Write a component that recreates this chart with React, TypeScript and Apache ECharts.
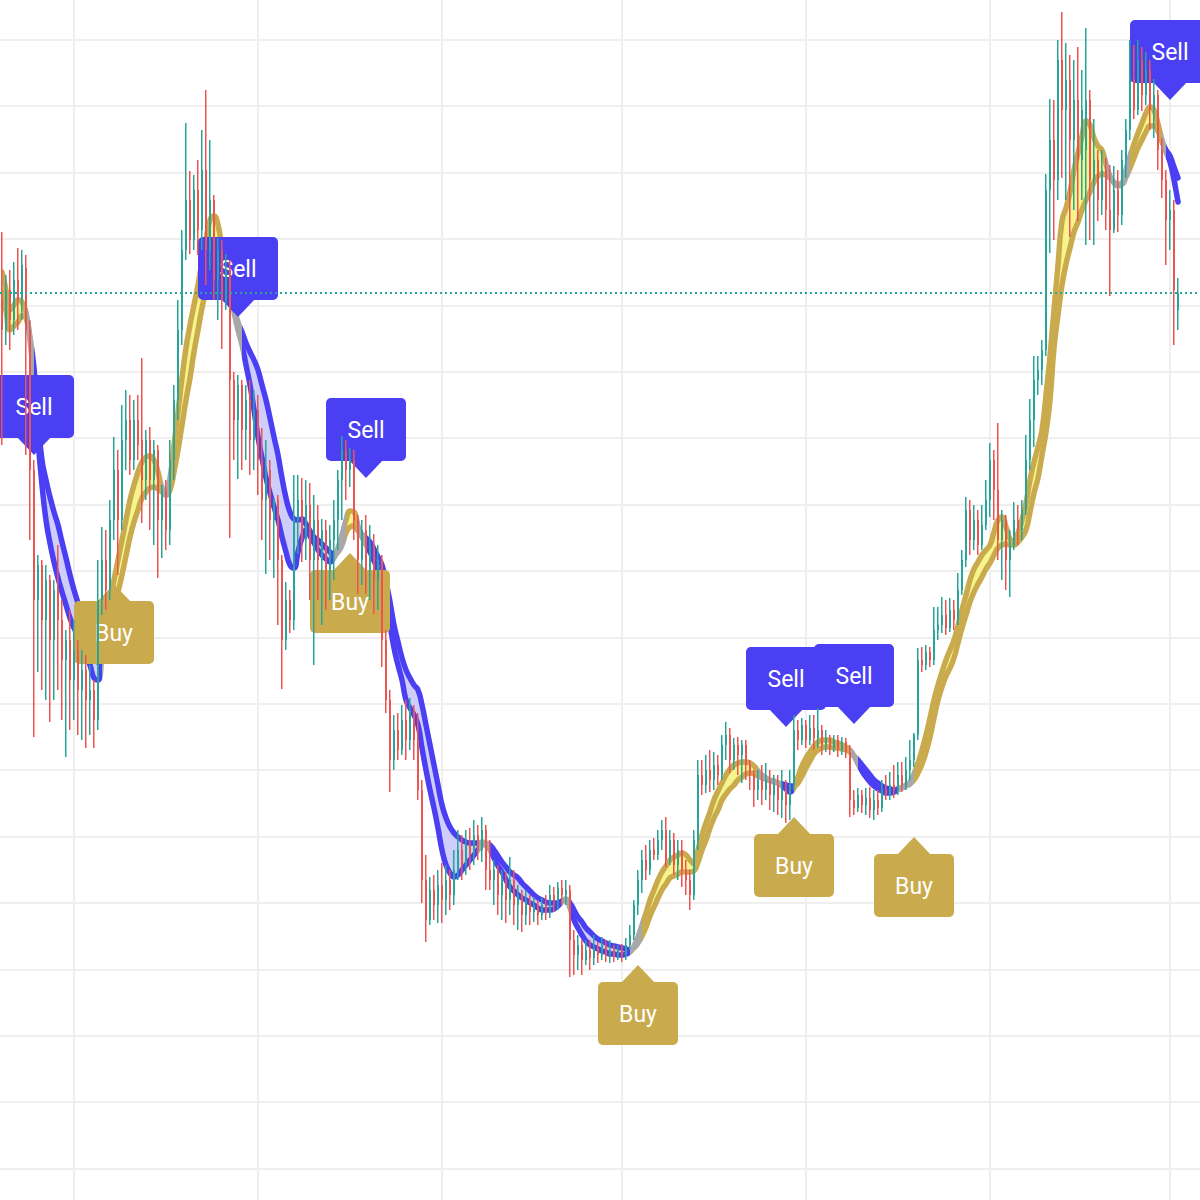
import React, { useEffect, useRef } from 'react';
import * as echarts from 'echarts';

// ---- Data (price units) ----
// Each candle: [open, close, low, high]
const ohlc: number[][] = [
  [9000,8700,7550,9680],[8700,9100,8550,9250],[9100,8800,8500,9300],[8800,9200,8650,9380],[9200,9000,8700,9520],
  [9000,9350,8800,9500],[9320,8700,7450,9450],[8700,7300,6600,8800],[7300,6000,4630,7400],[6000,6350,5280,6450],
  [6350,5800,5100,6400],[5800,6200,5000,6350],[6200,5600,4780,6250],[5600,6100,5000,6200],[6100,5800,5100,6550],
  [5800,5400,4800,6000],[5400,5600,4430,5700],[5600,5200,4700,5900],[5200,5500,4800,5800],[5500,5100,4650,5600],
  [5100,5300,4600,5500],[5300,5000,4520,5450],[5000,5100,4650,5350],[5100,4800,4520,5200],[4800,6000,4700,6400],
  [6000,6400,5850,6730],[6400,6100,5900,6700],[6100,6800,6000,7000],[6800,7300,6600,7630],[7300,6800,6250,7500],
  [6800,7600,6700,7950],[7600,7800,7300,8100],[7800,7400,7250,8050],[7400,7800,7300,8000],[7800,7550,7400,8050],
  [7600,7200,6770,8420],[7200,7600,7000,7700],[7600,7200,6700,7730],[7200,7500,6550,7600],[7500,6800,6220,7550],
  [6800,7100,6420,7150],[7100,6700,6500,7200],[6700,7400,6550,7600],[7400,8000,7200,8150],[8000,8700,7800,9000],
  [8700,9500,8550,9700],[9500,10000,9400,10770],[10000,9600,9460,10290],[9600,10100,9500,10250],[10100,9700,9450,10400],
  [9700,10300,9500,10700],[10300,9500,9150,11100],[9500,10000,9300,10600],[10000,9200,9000,10050],[9200,9500,8800,9620],
  [9500,9000,8510,9600],[9000,9300,8900,9460],[9300,8200,6620,9400],[8200,7800,7400,8280],[7800,8150,7210,8250],
  [8150,7700,7300,8200],[7700,8000,7400,8150],[8000,7600,7250,8200],[7600,7900,7300,8100],[7900,7400,7050,8050],
  [7400,7000,6600,7720],[7000,7300,6260,7600],[7300,6800,6400,7400],[6800,7000,6220,7010],[7000,6400,5750,7050],
  [6400,5600,5110,6450],[5600,6000,5500,6180],[6000,5800,5670,6100],[5800,6800,5700,7250],[6800,7000,6460,7250],
  [7000,6600,6380,7220],[6600,6950,6400,7200],[6950,6400,6000,7170],[6400,6800,5350,7050],[6800,6400,6000,6950],
  [6400,6700,5750,6810],[6700,6300,5900,6800],[6300,6600,6000,6750],[6600,6800,6200,7000],[6800,7200,6500,7300],
  [7200,7500,6800,7640],[7500,7300,7000,7600],[7300,7400,7130,7520],[7400,6800,6600,7500],[6800,6400,6060,6850],
  [6400,6700,6150,6800],[6700,6300,6060,6850],[6300,6550,6000,6750],[6550,6200,5860,6660],[6200,6400,5900,6550],
  [6400,5600,5330,6450],[5600,5000,4870,5700],[5000,4400,4080,5100],[4400,4700,4300,4850],[4700,4500,4400,4870],
  [4500,4800,4450,4950],[4800,4600,4400,5000],[4600,4900,4500,5020],[4900,4600,4400,4950],[4600,4100,4000,4870],
  [4100,3200,2970,4200],[3200,2800,2580,3450],[2800,3100,2750,3230],[3100,2950,2800,3250],[2950,3150,2770,3300],
  [3150,3000,2770,3370],[3000,3200,2850,3350],[3200,3050,2900,3300],[3050,3300,2950,3500],[3300,3500,3200,3700],
  [3500,3350,3200,3650],[3350,3550,3250,3700],[3550,3450,3300,3720],[3450,3650,3350,3800],[3650,3500,3400,3750],
  [3500,3700,3380,3830],[3700,3300,3100,3750],[3300,3200,3100,3600],[3200,3300,2950,3400],[3300,3050,2850,3350],
  [3050,3200,2800,3300],[3200,3000,2770,3280],[3000,3200,2850,3430],[3200,2950,2750,3300],[2950,3050,2700,3150],
  [3050,2850,2680,3100],[2850,3000,2750,3100],[3000,2880,2750,3050],[2880,2950,2780,3030],[2950,2850,2750,3000],
  [2850,2950,2800,3020],[2950,2880,2800,3050],[2880,3050,2820,3150],[3050,3000,2880,3130],[3000,3120,2900,3180],
  [3120,3050,2950,3200],[3050,3100,2950,3200],[3100,2600,2230,3150],[2600,2450,2250,2700],[2450,2550,2300,2650],
  [2550,2400,2250,2600],[2400,2500,2350,2600],[2500,2420,2300,2600],[2420,2520,2350,2650],[2520,2450,2370,2580],
  [2450,2550,2400,2630],[2550,2450,2380,2600],[2450,2500,2370,2600],[2500,2430,2380,2550],[2430,2500,2400,2550],
  [2500,2450,2380,2560],[2450,2550,2400,2620],[2550,2650,2500,2750],[2650,2950,2600,3000],[2950,3200,2850,3300],
  [3200,3400,3070,3500],[3400,3300,3200,3550],[3300,3500,3250,3600],[3500,3450,3400,3620],[3450,3600,3400,3700],
  [3600,3700,3500,3800],[3700,3400,3330,3830],[3400,3600,3350,3700],[3600,3350,3250,3670],[3350,3500,3200,3600],
  [3500,3300,3130,3600],[3300,3200,3050,3400],[3200,3050,2900,3300],[3050,3600,3000,3700],[3600,4250,3500,4400],
  [4250,4150,4050,4400],[4150,4300,4070,4450],[4300,4200,4080,4500],[4200,4350,4100,4480],[4350,4250,4150,4450],
  [4250,4550,4200,4650],[4550,4650,4400,4780],[4650,4400,4270,4720],[4400,4550,4300,4620],[4550,4450,4250,4630],
  [4450,4550,4170,4600],[4550,4350,4200,4600],[4350,4250,4100,4400],[4250,4100,3930,4300],[4100,4200,4000,4300],
  [4200,4100,3950,4350],[4100,4200,4000,4370],[4200,4050,3900,4300],[4050,4150,3880,4250],[4150,4000,3850,4250],
  [4000,4100,3820,4300],[4100,3950,3770,4200],[3950,4150,3800,4300],[4150,4700,4100,4850],[4700,4600,4500,4800],
  [4600,4750,4550,4820],[4750,4600,4520,4800],[4600,4720,4550,4850],[4720,4620,4500,4850],[4620,4700,4520,4920],
  [4700,4550,4450,4750],[4550,4620,4480,4700],[4620,4520,4450,4650],[4520,4600,4480,4650],[4600,4500,4430,4650],
  [4500,4580,4450,4630],[4580,4480,4420,4620],[4480,4000,3830,4550],[4000,3920,3850,4100],[3920,4050,3880,4120],
  [4050,3950,3870,4100],[3950,4020,3850,4120],[4020,3900,3820,4130],[3900,4000,3800,4100],[4000,3920,3850,4100],
  [3920,4100,3880,4200],[4100,4050,4000,4250],[4050,4150,4000,4280],[4150,4100,4020,4350],[4100,4250,4050,4380],
  [4250,4150,4080,4380],[4150,4300,4100,4430],[4300,4400,4200,4600],[4400,4650,4330,4670],[4650,5400,4600,5520],
  [5400,5350,5280,5530],[5350,5480,5300,5550],[5480,5400,5330,5530],[5400,5700,5350,5930],[5700,5750,5600,5930],
  [5750,5850,5670,6030],[5850,5720,5650,6000],[5720,5900,5680,6020],[5900,5800,5700,6000],[5800,6100,5750,6270],
  [6100,6400,6050,6500],[6400,6900,6330,7030],[6900,6600,6450,7000],[6600,6800,6500,6950],[6800,6550,6450,6900],
  [6550,6750,6500,6950],[6750,7000,6700,7200],[7000,7400,6830,7570],[7400,7100,6800,7500],[7100,6600,6400,7770],
  [6600,6800,6200,6900],[6800,6400,6100,6850],[6400,6550,6030,6700],[6550,6800,6500,6980],[6800,6700,6550,6950],
  [6700,6900,6600,7000],[6900,7400,6850,7650],[7400,7800,7300,8010],[7800,8200,7530,8440],[8200,8300,8050,8440],
  [8300,8500,8150,8600],[8500,10100,8440,10260],[10100,10600,9470,11010],[10600,10200,9600,11000],[10200,11400,10000,11600],
  [11400,10900,10220,11880],[10900,11200,10000,11570],[11200,10600,9630,11450],[10600,11000,9900,11400],[11000,10400,9790,11530],
  [10400,10900,10000,11300],[10500,11000,9550,11720],[11000,10200,9600,11100],[10200,10400,9550,10810],[10400,10000,9790,10500],
  [10000,10300,9850,10500],[10300,9900,9700,10420],[9900,9700,9040,10350],[9700,10100,9670,10340],[10100,9850,9680,10300],
  [9850,10400,9750,10500],[10400,10700,10220,10810],[10700,11200,10600,11600],[11200,10900,10810,11550],[10900,11400,10850,11600],
  [11400,11050,10890,11530],[11050,11300,10950,11480],[11300,10900,10700,11400],[10900,11050,10620,11210],[11050,10500,10300,11100],
  [10500,10200,10020,10620],[10200,9800,9350,10300],[9800,9900,9500,10100],[9900,9100,8550,10000],[8900,9070,8700,9220],
];

const fastMA: number[] = [
  9280,9100,8900,8950,9000,8980,8880,8600,8200,7600,
  7150,6800,6570,6380,6220,6080,5950,5820,5720,5640,
  5550,5450,5350,5220,5200,5450,5780,6000,6200,6400,
  6600,6800,7000,7150,7280,7380,7430,7440,7400,7280,
  7120,7050,7220,7550,7880,8220,8520,8750,8950,9150,
  9380,9600,9800,9840,9750,9520,9280,9080,8880,8700,
  8550,8350,8150,7900,7630,7420,7220,7070,6930,6800,
  6630,6480,6350,6320,6480,6620,6700,6640,6570,6500,
  6450,6410,6380,6420,6520,6650,6800,6890,6880,6740,
  6630,6550,6480,6390,6300,6200,5980,5750,5520,5350,
  5200,5000,4920,4850,4750,4520,4300,4100,3920,3720,
  3500,3350,3270,3230,3250,3300,3350,3400,3450,3500,
  3550,3550,3500,3420,3340,3280,3200,3130,3090,3050,
  3020,3000,2970,2950,2920,2900,2900,2900,2910,2940,
  2980,3000,2920,2800,2720,2650,2590,2550,2530,2510,
  2490,2480,2460,2460,2450,2450,2460,2480,2540,2630,
  2750,2870,3000,3100,3200,3280,3340,3400,3430,3450,
  3470,3450,3400,3360,3500,3650,3770,3880,4000,4090,
  4170,4250,4310,4350,4370,4380,4380,4370,4340,4290,
  4250,4220,4200,4190,4170,4140,4110,4080,4120,4230,
  4340,4420,4480,4540,4580,4600,4600,4600,4580,4570,
  4550,4530,4500,4440,4360,4290,4230,4180,4140,4110,
  4090,4070,4070,4080,4100,4130,4150,4180,4260,4370,
  4500,4650,4820,5000,5150,5280,5400,5500,5600,5740,
  5900,6050,6200,6310,6380,6450,6500,6550,6680,6800,
  6830,6730,6610,6590,6670,6800,6970,7200,7380,7530,
  7700,8050,8440,8900,9350,9790,9920,10080,10300,10470,
  10640,10790,10750,10620,10540,10500,10360,10240,10170,10140,
  10160,10300,10440,10560,10670,10770,10870,10930,10900,10760,
  10600,10480,10380,10200,9980,
];

const slowMA: number[] = [
  9080,8890,8700,8740,8780,8840,8820,8620,8320,7800,
  7400,7200,7030,6880,6750,6580,6420,6250,6100,5970,
  5850,5760,5680,5550,5380,5420,5600,5780,5920,6080,
  6250,6440,6630,6780,6900,7020,7080,7120,7130,7110,
  7080,7050,7100,7280,7500,7750,8000,8220,8480,8700,
  8920,9100,9270,9380,9420,9360,9220,9080,8920,8780,
  8680,8570,8480,8400,8300,8150,8000,7820,7630,7450,
  7220,7020,6880,6810,6800,6810,6760,6690,6630,6600,
  6560,6520,6480,6450,6480,6550,6670,6730,6740,6690,
  6660,6620,6580,6510,6430,6350,6180,5980,5750,5580,
  5420,5300,5220,5150,5100,4950,4750,4550,4350,4150,
  3950,3820,3730,3670,3630,3600,3580,3570,3570,3570,
  3580,3570,3550,3500,3440,3380,3330,3280,3250,3220,
  3170,3130,3090,3050,3020,3000,2980,2970,2970,2970,
  2990,3010,2970,2900,2830,2780,2720,2680,2640,2610,
  2590,2570,2550,2540,2530,2520,2510,2500,2520,2570,
  2640,2730,2840,2930,3020,3100,3160,3220,3240,3260,
  3280,3280,3280,3290,3380,3500,3600,3720,3820,3900,
  4000,4060,4110,4150,4200,4230,4260,4270,4260,4240,
  4220,4210,4190,4180,4170,4160,4150,4140,4140,4170,
  4240,4320,4390,4460,4500,4520,4530,4530,4520,4520,
  4510,4500,4480,4440,4400,4350,4300,4250,4200,4170,
  4140,4120,4110,4100,4110,4120,4140,4160,4200,4270,
  4360,4480,4630,4820,5000,5130,5240,5320,5420,5570,
  5720,5850,5980,6080,6160,6230,6310,6370,6450,6520,
  6550,6560,6550,6550,6580,6630,6700,6880,7070,7220,
  7450,7680,8000,8520,8850,9150,9360,9520,9680,9780,
  9900,10000,10080,10180,10240,10260,10250,10220,10180,10160,
  10160,10230,10320,10420,10520,10600,10680,10740,10740,10690,
  10580,10500,10440,10330,10220,
];

// Trend state of the indicator, starting at bar index
const regimeStart = [0, 6, 7.5, 24.5, 25.5, 39.5, 42, 56.5, 59.5, 83, 85.5, 88.5, 90.5, 119, 122, 139.5, 142, 157, 159.5, 189, 195, 198, 211.5, 213.5, 224, 227.5, 276, 281.5, 289.5, 291];
const regimeState = ['bull','flat','bear','flat','bull','flat','bull','flat','bear','flat','bull','flat','bear','flat','bear','flat','bear','flat','bull','flat','bear','bull','flat','bear','flat','bull','flat','bull','flat','bear'];

// Signals: bar index and price of the label's pointer
const sellIndex = [8, 59, 91, 196, 213, 292];
const sellPrice = [7450, 8830, 7220, 4730, 4760, 11000];
const buyIndex = [28, 87, 159, 198, 228];
const buyPrice = [6160, 6470, 2350, 3830, 3630];

// Background grid: price levels and bar positions of the grid lines
const gridPrices = [11600, 10936, 10272, 9608, 8944, 8280, 7616, 6952, 6288, 5624, 4960, 4296, 3632, 2968, 2304, 1640, 976, 312];
const gridBars = [18, 64, 109.5, 155, 200.75, 246.5, 292];

const barSlots = 300;

// ---- Styles ----
const UP = '#26a69a';
const DOWN = '#ef5350';
const BULL = '#c9aa4c';
const BEAR = '#4b3ff4';
const FLAT = '#a8a8a8';
const BULL_FILL = '#f5f58c';
const BEAR_FILL = '#cfcdfa';
const GRID = '#efefef';

const hiddenAxis = {
  axisLine: { show: false },
  axisTick: { show: false },
  axisLabel: { show: false },
};

function markerSeries(name: string, idx: number[], price: number[], color: string, text: string, down: boolean) {
  return {
    name,
    type: 'custom',
    z: 4,
    clip: false,
    silent: true,
    data: idx.map((v, j) => [v, price[j]]),
    renderItem: (params: any, api: any) => {
      const p = api.coord([api.value(0), api.value(1)]);
      const x = p[0];
      const y = p[1];
      const w = 80;
      const h = 63;
      const a = 17;
      const boxTop = down ? y - a - h : y + a;
      const tri = down
        ? [[x - a, y - a - 1], [x + a, y - a - 1], [x, y]]
        : [[x, y], [x - a, y + a + 1], [x + a, y + a + 1]];
      return {
        type: 'group',
        children: [
          { type: 'rect', shape: { x: x - w / 2, y: boxTop, width: w, height: h, r: 5 }, style: { fill: color } },
          { type: 'polygon', shape: { points: tri }, style: { fill: color } },
          {
            type: 'text',
            x,
            y: boxTop + h / 2 + 1,
            style: {
              text,
              fill: '#ffffff',
              fontSize: 23,
              fontFamily: 'Roboto, "Noto Sans", sans-serif',
              align: 'center',
              verticalAlign: 'middle',
            },
          },
        ],
      };
    },
  };
}

export default function App() {
  const ref = useRef<HTMLDivElement>(null);

  useEffect(() => {
    if (!ref.current) return;
    const chart = echarts.init(ref.current, null, { renderer: 'svg' });

    const categories = Array.from({ length: barSlots }, (_, i) => String(i + 1));
    const bandBase = fastMA.map((f, i) => Math.min(f, slowMA[i]));
    const bandBull = fastMA.map((f, i) => Math.max(f - slowMA[i], 0));
    const bandBear = fastMA.map((f, i) => Math.max(slowMA[i] - f, 0));
    const stateColor: Record<string, string> = { bull: BULL, bear: BEAR, flat: FLAT };
    const pieces = regimeStart.map((s, j) => {
      const piece: any = { gte: s, color: stateColor[regimeState[j]] };
      if (j < regimeStart.length - 1) piece.lt = regimeStart[j + 1];
      return piece;
    });
    const lastClose = ohlc[ohlc.length - 1][1];

    const option: any = {
      animation: false,
      backgroundColor: '#ffffff',
      grid: { left: 0, right: 0, top: 0, bottom: 0, show: false },
      xAxis: {
        type: 'category', data: categories, boundaryGap: true, ...hiddenAxis,
        splitLine: { show: false },
      },
      yAxis: {
        type: 'value', min: 0, max: 12000, ...hiddenAxis,
        splitLine: { show: false },
      },
      visualMap: [
        { type: 'piecewise', show: false, dimension: 0, seriesIndex: [5, 6], pieces },
      ],
      series: [
        {
          name: 'hGrid', type: 'custom', z: 0, silent: true, clip: false,
          data: gridPrices.map((p) => [0, p]),
          renderItem: (params: any, api: any) => {
            const cs = params.coordSys;
            const y = Math.round(api.coord([0, api.value(1)])[1]);
            return {
              type: 'line',
              shape: { x1: cs.x, y1: y, x2: cs.x + cs.width, y2: y },
              style: { stroke: GRID, lineWidth: 2 },
            };
          },
        },
        {
          name: 'vGrid', type: 'custom', z: 0, silent: true, clip: false,
          data: gridBars.map((b) => [b, 0]),
          renderItem: (params: any, api: any) => {
            const cs = params.coordSys;
            const x = Math.round(api.coord([api.value(0), 0])[0]);
            return {
              type: 'line',
              shape: { x1: x, y1: cs.y, x2: x, y2: cs.y + cs.height },
              style: { stroke: GRID, lineWidth: 2 },
            };
          },
        },
        {
          name: 'bandBase', type: 'line', stack: 'band', data: bandBase,
          symbol: 'none', smooth: true, silent: true, z: 2, lineStyle: { opacity: 0 },
        },
        {
          name: 'bandBull', type: 'line', stack: 'band', data: bandBull,
          symbol: 'none', smooth: true, silent: true, z: 2, lineStyle: { opacity: 0 },
          areaStyle: { color: BULL_FILL, opacity: 1 },
        },
        {
          name: 'bandBear', type: 'line', stack: 'band', data: bandBear,
          symbol: 'none', smooth: true, silent: true, z: 2, lineStyle: { opacity: 0 },
          areaStyle: { color: BEAR_FILL, opacity: 1 },
        },
        {
          name: 'slow', type: 'line', data: slowMA,
          symbol: 'none', smooth: true, silent: true, z: 3,
          lineStyle: { width: 5.5, cap: 'round', join: 'round' },
        },
        {
          name: 'fast', type: 'line', data: fastMA,
          symbol: 'none', smooth: true, silent: true, z: 3,
          lineStyle: { width: 5.5, cap: 'round', join: 'round' },
        },
        markerSeries('sell', sellIndex, sellPrice, BEAR, 'Sell', true),
        markerSeries('buy', buyIndex, buyPrice, BULL, 'Buy', false),
        {
          name: 'price', type: 'custom', z: 5, silent: true,
          data: ohlc.map((d, i) => [i, d[0], d[1], d[2], d[3]]),
          encode: { x: 0, y: [1, 2, 3, 4] },
          renderItem: (params: any, api: any) => {
            const i = api.value(0);
            const o = api.value(1);
            const c = api.value(2);
            const lo = api.value(3);
            const hi = api.value(4);
            const pH = api.coord([i, hi]);
            const pL = api.coord([i, lo]);
            const pO = api.coord([i, o]);
            const pC = api.coord([i, c]);
            const x = Math.round(pH[0]);
            const color = c >= o ? UP : DOWN;
            const top = Math.min(pO[1], pC[1]);
            const bh = Math.max(Math.abs(pO[1] - pC[1]), 1);
            return {
              type: 'group',
              children: [
                { type: 'rect', shape: { x: x - 1, y: pH[1], width: 1.5, height: pL[1] - pH[1] }, style: { fill: color } },
                { type: 'rect', shape: { x: x - 1, y: top, width: 2, height: bh }, style: { fill: color } },
              ],
            };
          },
        },
        {
          name: 'lastPrice', type: 'custom', z: 6, silent: true, clip: false,
          data: [[0, lastClose]],
          renderItem: (params: any, api: any) => {
            const cs = params.coordSys;
            const y = Math.round(api.coord([0, api.value(1)])[1]);
            return {
              type: 'line',
              shape: { x1: cs.x, y1: y, x2: cs.x + cs.width, y2: y },
              style: { stroke: UP, lineWidth: 2, lineDash: [2, 3] },
            };
          },
        },
      ],
    };

    chart.setOption(option);
    return () => chart.dispose();
  }, []);

  return (
    <div
      ref={ref}
      style={{ position: 'absolute', left: 0, top: 0, width: 1200, height: 1200, background: '#ffffff' }}
    />
  );
}
